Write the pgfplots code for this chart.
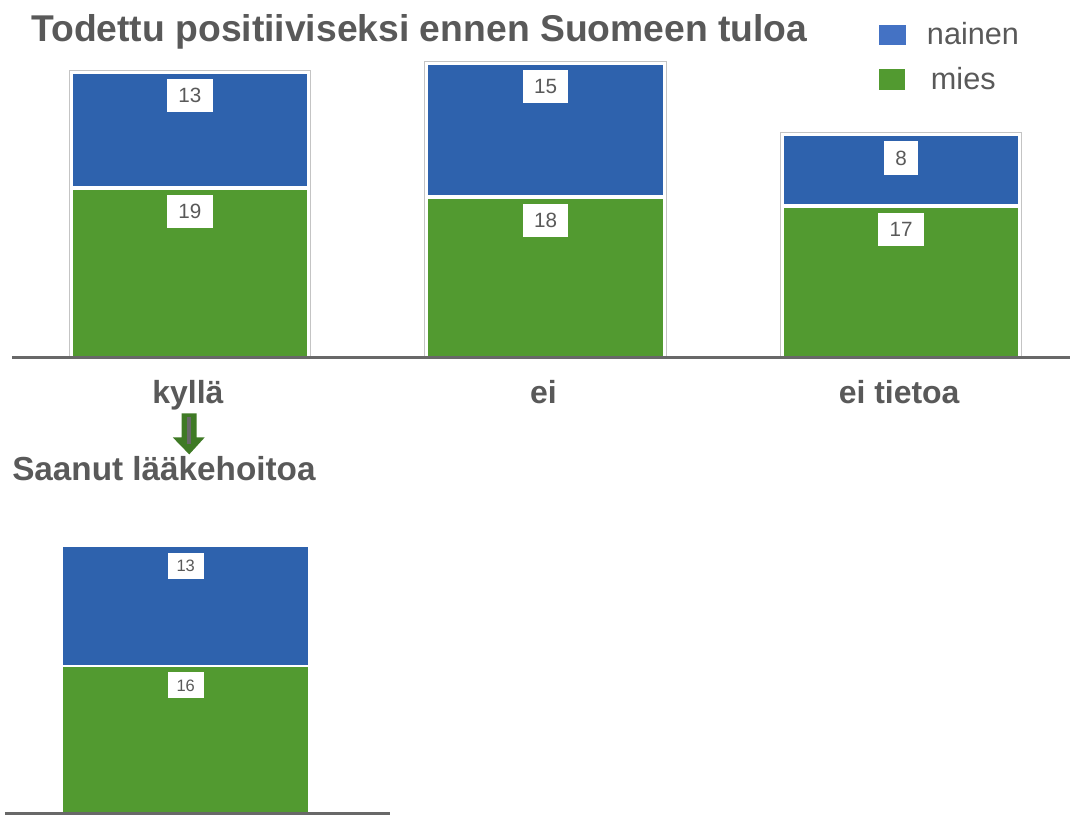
\documentclass[border=0pt]{standalone}
\usepackage{pgfplots}
\pgfplotsset{compat=1.18}
\usepackage{fontspec}
\setmainfont{Liberation Sans}

\definecolor{barblue}{HTML}{2E62AD}
\definecolor{bargreen}{HTML}{529A30}
\definecolor{legblue}{HTML}{4472C4}
\definecolor{txtgray}{HTML}{595959}
\definecolor{linegray}{HTML}{686868}
\definecolor{framegray}{HTML}{C4C4C4}
\definecolor{arrowgreen}{HTML}{3F7A25}

% 1 px of the reference = 0.75pt
\pgfplotsset{
  topaxis/.style={
    at={(12*0.75pt,-358*0.75pt)}, anchor=south west,
    x=267.075pt, y=6.7pt,
    xmin=-0.5004, xmax=2.4735, ymin=0, ymax=36,
    clip=false,
  },
  botaxis/.style={
    at={(5*0.75pt,-815*0.75pt)}, anchor=south west,
    x=267.075pt, y=6.93pt,
    xmin=-0.5083, xmax=0.5757, ymin=0, ymax=31,
    clip=false,
  },
}

\begin{document}
\begin{tikzpicture}
\begin{scope}[x=0.75pt, y=-0.75pt]
  \path[use as bounding box] (0,0) rectangle (1071,826);
  \node[anchor=base west, inner sep=0, text=txtgray, font=\fontsize{28}{32}\selectfont\bfseries]
    at (31,42) {Todettu positiiviseksi ennen Suomeen tuloa};
  \node[anchor=base west, inner sep=0, text=txtgray, font=\fontsize{25}{30}\selectfont\bfseries]
    at (12,481) {Saanut lääkehoitoa};
  % legend
  \fill[legblue] (880,25) rectangle (907,45);
  \node[anchor=base west, inner sep=0, text=txtgray, font=\fontsize{23}{28}\selectfont]
    at (928,45) {nainen};
  \fill[bargreen] (880,69) rectangle (906,90);
  \node[anchor=base west, inner sep=0, text=txtgray, font=\fontsize{23}{28}\selectfont]
    at (932,90) {mies};
\end{scope}

% upper chart: stacked bars
\begin{axis}[topaxis, hide axis, ybar stacked, bar width=0.671]
  \addplot[fill=bargreen, draw=white, line width=3pt] coordinates {(0,19) (1,18) (2,17)};
  \addplot[fill=barblue, draw=white, line width=3pt] coordinates {(0,13) (1,15) (2,8)};
\end{axis}

% thin frames round the upper bars
\begin{axis}[topaxis, hide axis, ybar, bar width=0.679]
  \addplot[fill=none, draw=framegray, line width=0.75pt, y filter/.expression={y+0.22}]
    coordinates {(0,32) (1,33) (2,25)};
\end{axis}

% value boxes, base line and category labels
\begin{axis}[topaxis,
    axis x line*=bottom, axis y line=none,
    x axis line style={draw=linegray, line width=2.25pt, -},
    xtick=data, xticklabels={kyllä, ei, ei tietoa},
    major tick length=0pt,
    xticklabel style={anchor=base, yshift=-34.5pt, xshift=-1.5pt, text=txtgray,
      font=\fontsize{24}{28}\selectfont\bfseries},
  ]
  \addplot[draw=none, nodes near coords, point meta=explicit symbolic,
    every node near coord/.append style={anchor=north, yshift=-5pt, fill=white,
      text=txtgray, inner xsep=8.5pt, inner ysep=0pt, minimum height=25pt,
      font=\fontsize{15.5}{18}\selectfont}]
    coordinates {(0,19)[19] (1,18)[18] (2,17)[17]};
  \addplot[draw=none, nodes near coords, point meta=explicit symbolic,
    every node near coord/.append style={anchor=north, yshift=-5pt, fill=white,
      text=txtgray, inner xsep=8.5pt, inner ysep=0pt, minimum height=25pt,
      font=\fontsize{15.5}{18}\selectfont}]
    coordinates {(0,32)[13] (1,33)[15] (2,25)[8]};
\end{axis}

% lower chart
\begin{axis}[botaxis, hide axis, ybar stacked, bar width=0.696]
  \addplot[fill=bargreen, draw=white, line width=1.5pt] coordinates {(0,16)};
  \addplot[fill=barblue, draw=white, line width=1.5pt] coordinates {(0,13)};
\end{axis}

\begin{axis}[botaxis,
    axis x line*=bottom, axis y line=none,
    x axis line style={draw=linegray, line width=2.25pt, -},
    xtick=\empty, major tick length=0pt,
  ]
  \addplot[draw=none, nodes near coords, point meta=explicit symbolic,
    every node near coord/.append style={anchor=north, yshift=-4.5pt, fill=white,
      text=txtgray, inner xsep=6.75pt, inner ysep=0pt, minimum height=19.5pt,
      font=\fontsize{12.4}{15}\selectfont}]
    coordinates {(0,16)[16] (0,29)[13]};
\end{axis}

% arrow from "kyllä" down to the lower chart
\begin{scope}[x=0.75pt, y=-0.75pt]
  \fill[arrowgreen] (182,414) -- (197,414) -- (197,438) -- (205,438) -- (189.5,455)
    -- (173,438) -- (182,438) -- cycle;
  \draw[linegray, line width=3pt] (189.5,418) -- (189.5,445);
\end{scope}
\end{tikzpicture}
\end{document}
